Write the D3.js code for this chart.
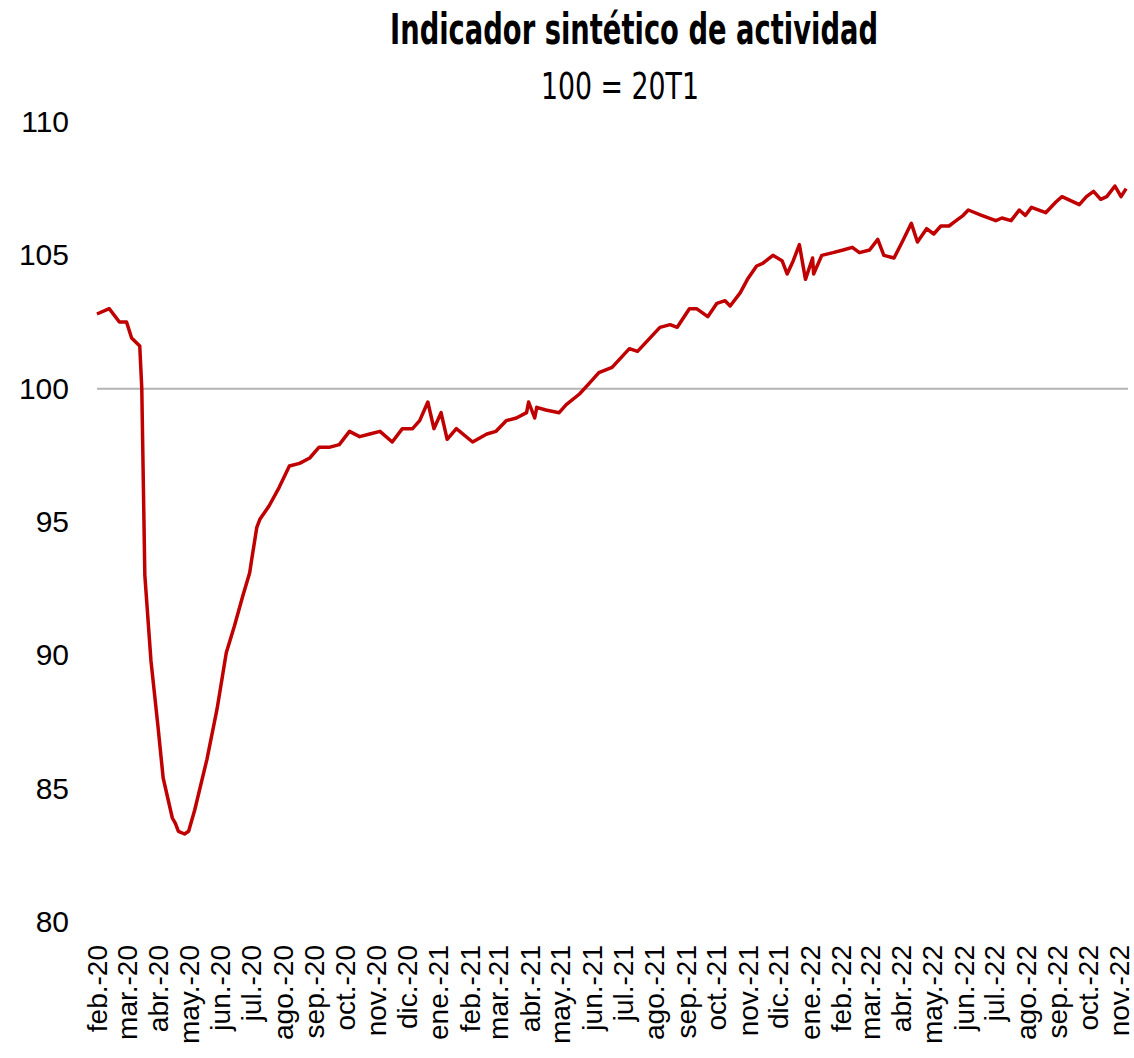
<!DOCTYPE html>
<html>
<head>
<meta charset="utf-8">
<script src="https://cdn.jsdelivr.net/npm/d3@7"></script>
<style>
  body { margin: 0; background: #fff; }
  text { font-family: "Liberation Sans", Arial, sans-serif; }
</style>
</head>
<body>
<svg id="chart" width="1134" height="1058"></svg>
<script>
const dates = [
  "2020-02-01","2020-02-13","2020-02-23","2020-03-01","2020-03-06","2020-03-14","2020-03-16","2020-03-19",
  "2020-03-25","2020-04-01","2020-04-06","2020-04-15","2020-04-18","2020-04-21","2020-04-27","2020-05-01",
  "2020-05-07","2020-05-19","2020-05-29","2020-06-07","2020-06-15","2020-06-23","2020-06-30","2020-07-02",
  "2020-07-07","2020-07-10","2020-07-19","2020-07-29","2020-08-08","2020-08-18","2020-08-28","2020-09-06",
  "2020-09-16","2020-09-26","2020-10-06","2020-10-16","2020-10-26","2020-11-05","2020-11-17","2020-11-27",
  "2020-12-07","2020-12-14","2020-12-22","2020-12-28","2021-01-04","2021-01-10","2021-01-19","2021-02-04",
  "2021-02-18","2021-02-27","2021-03-09","2021-03-19","2021-03-29","2021-03-31","2021-04-06","2021-04-08",
  "2021-04-17","2021-04-30","2021-05-07","2021-05-20","2021-06-01","2021-06-08","2021-06-21","2021-07-08",
  "2021-07-16","2021-08-07","2021-08-17","2021-08-24","2021-09-05","2021-09-12","2021-09-23","2021-10-02",
  "2021-10-10","2021-10-15","2021-10-25","2021-11-01","2021-11-10","2021-11-16","2021-11-26","2021-12-05",
  "2021-12-10","2021-12-16","2021-12-22","2021-12-28","2022-01-04","2022-01-05","2022-01-13","2022-01-24",
  "2022-02-03","2022-02-12","2022-02-19","2022-03-01","2022-03-09","2022-03-15","2022-03-25","2022-04-02",
  "2022-04-11","2022-04-17","2022-04-26","2022-05-03","2022-05-10","2022-05-18","2022-05-25","2022-06-01",
  "2022-06-06","2022-06-19","2022-07-03","2022-07-09","2022-07-18","2022-07-26","2022-08-01","2022-08-07",
  "2022-08-21","2022-08-31","2022-09-06","2022-09-23","2022-09-30","2022-10-07","2022-10-14","2022-10-20",
  "2022-10-28","2022-11-03","2022-11-08"
];
const values = [
  102.8,103.0,102.5,102.5,101.9,101.6,100.0,93.0,
  89.8,87.3,85.4,83.9,83.7,83.4,83.3,83.4,
  84.2,86.1,88.0,90.1,91.1,92.2,93.1,93.6,
  94.8,95.1,95.6,96.3,97.1,97.2,97.4,97.8,
  97.8,97.9,98.4,98.2,98.3,98.4,98.0,98.5,
  98.5,98.8,99.5,98.5,99.1,98.1,98.5,98.0,
  98.3,98.4,98.8,98.9,99.1,99.5,98.9,99.3,
  99.2,99.1,99.4,99.8,100.3,100.6,100.8,101.5,
  101.4,102.3,102.4,102.3,103.0,103.0,102.7,103.2,
  103.3,103.1,103.6,104.1,104.6,104.7,105.0,104.8,
  104.3,104.8,105.4,104.1,104.9,104.3,105.0,105.1,
  105.2,105.3,105.1,105.2,105.6,105.0,104.9,105.5,
  106.2,105.5,106.0,105.8,106.1,106.1,106.3,106.5,
  106.7,106.5,106.3,106.4,106.3,106.7,106.5,106.8,
  106.6,107.0,107.2,106.9,107.2,107.4,107.1,107.2,
  107.6,107.2,107.5
];
const yTicks = [80, 85, 90, 95, 100, 105, 110];
const monthNames = ["ene","feb","mar","abr","may","jun","jul","ago","sep","oct","nov","dic"];
const title = "Indicador sintético de actividad";
const subtitle = "100 = 20T1";

const parse = d3.timeParse("%Y-%m-%d");
const data = dates.map((d, i) => ({ date: parse(d), value: values[i] }));

const svg = d3.select("#chart");

const x = d3.scaleTime()
  .domain([parse("2020-02-01"), parse("2022-11-01")])
  .range([97, 1119]);
const y = d3.scaleLinear().domain([80, 110]).range([922, 122]);

// titles
svg.append("text")
  .attr("x", 634).attr("y", 44)
  .attr("text-anchor", "middle")
  .attr("textLength", 488).attr("lengthAdjust", "spacingAndGlyphs")
  .style("font-family", "'Liberation Sans Narrow', 'DejaVu Sans Condensed', sans-serif")
  .style("font-weight", "bold")
  .style("font-size", "42px")
  .text(title);

svg.append("text")
  .attr("x", 620).attr("y", 99)
  .attr("text-anchor", "middle")
  .attr("textLength", 158).attr("lengthAdjust", "spacingAndGlyphs")
  .style("font-family", "'Liberation Sans Narrow', 'DejaVu Sans Condensed', sans-serif")
  .style("font-size", "38px")
  .text(subtitle);

// y axis
const yAxis = svg.append("g")
  .attr("transform", "translate(69,0)")
  .call(d3.axisLeft(y).tickValues(yTicks).tickSize(0).tickPadding(0));
yAxis.select(".domain").remove();
yAxis.selectAll("text")
  .style("font-size", "30px")
  .style("font-family", "'Liberation Sans', Arial, sans-serif")
  .attr("fill", "#000");

// x axis
const months = d3.timeMonth.range(parse("2020-02-01"), parse("2022-11-02"));
const xAxis = svg.append("g")
  .attr("transform", "translate(0,945)")
  .call(d3.axisBottom(x)
    .tickValues(months)
    .tickSize(0)
    .tickFormat(d => monthNames[d.getMonth()] + ".-" + d3.timeFormat("%y")(d)));
xAxis.select(".domain").remove();
xAxis.selectAll("text")
  .attr("x", 0).attr("y", 0).attr("dy", "0.35em")
  .attr("transform", "rotate(-90)")
  .style("text-anchor", "end")
  .style("font-size", "28px")
  .style("font-family", "'Liberation Sans', Arial, sans-serif")
  .attr("fill", "#000");

// reference line at 100
svg.append("line")
  .attr("x1", 97).attr("x2", 1128)
  .attr("y1", y(100)).attr("y2", y(100))
  .attr("stroke", "#b3b3b3")
  .attr("stroke-width", 2);

// series
const line = d3.line()
  .x(d => x(d.date))
  .y(d => y(d.value));

svg.append("path")
  .datum(data)
  .attr("fill", "none")
  .attr("stroke", "#c00000")
  .attr("stroke-width", 3.5)
  .attr("stroke-linejoin", "round")
  .attr("d", line);
</script>
</body>
</html>
